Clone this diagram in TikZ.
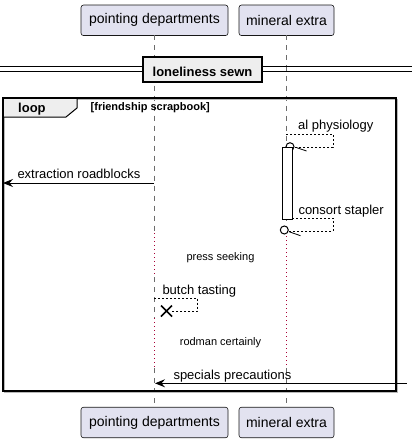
\documentclass[tikz,border=0pt]{standalone}
\usepackage{fontspec}
\setmainfont{Liberation Sans}
\usetikzlibrary{arrows.meta}
\definecolor{partfill}{HTML}{E2E2F0}
\definecolor{partline}{HTML}{181818}
\definecolor{delaycol}{HTML}{A80036}
\definecolor{tabfill}{HTML}{EEEEEE}
\tikzset{
  part/.style={draw=partline, line width=0.6, fill=partfill, rounded corners=2.5,
    minimum height=30.5, inner sep=0, font=\fontsize{14}{16}\selectfont},
  lifeline/.style={draw=gray!85!black, line width=0.8, dash pattern=on 5 off 5},
  delayline/.style={draw=delaycol, line width=1, dash pattern=on 1 off 3},
  msg/.style={draw=black, line width=0.9, -{Stealth[length=10,width=8,inset=3.5]}},
  selfmsg/.style={draw=black, line width=0.8, dash pattern=on 2 off 2},
  lbl/.style={anchor=base west, inner sep=0, font=\fontsize{13}{15}\selectfont},
  dlbl/.style={anchor=base, inner sep=0, font=\fontsize{11}{13}\selectfont},
}
\begin{document}
\begin{tikzpicture}[x=1pt,y=-1pt]
\useasboundingbox[fill=white] (0,0) rectangle (412,444);

% participants
\node[part, minimum width=147] (pdT) at (154.5,20.3) {pointing departments};
\node[part, minimum width=95] (meT) at (286.5,20.3) {mineral extra};
\node[part, minimum width=147] (pdB) at (154.5,422.5) {pointing departments};
\node[part, minimum width=95] (meB) at (286.5,422.5) {mineral extra};

% lifeline coordinates
\coordinate (pd0) at (154,35.5);
\coordinate (pd1) at (154,233);
\coordinate (pd2) at (154,277);
\coordinate (pd3) at (154,318);
\coordinate (pd4) at (154,368);
\coordinate (pd5) at (154,407);
\coordinate (me0) at (286,35.5);
\coordinate (me1) at (286,236);
\coordinate (me2) at (286,368);
\coordinate (me3) at (286,407);

\draw[lifeline] (pd0) -- (pd1);
\draw[delayline] (pd1) -- (pd2);
\draw[lifeline] (pd2) -- (pd3);
\draw[delayline] (pd3) -- (pd4);
\draw[lifeline] (pd4) -- (pd5);
\draw[lifeline] (me0) -- (286,226);
\draw[delayline] (me1) -- (me2);
\draw[lifeline] (me2) -- (me3);

% divider
\draw[line width=1] (0,66) -- (412,66) (0,71) -- (412,71);
\node[draw=black, line width=1.5, fill=tabfill, minimum width=119, minimum height=25,
  inner sep=0] (div) at (202.5,69.5) {};
\node[anchor=base, inner sep=0, font=\bfseries\fontsize{13}{15}\selectfont] (divt) at (202.5,76.5) {loneliness sewn};

% loop frame
\draw[gray!55, line width=1.5] (4.5,99.5) rectangle (397.5,392.5);
\draw[fill=tabfill, line width=1] (3,98) -- (77,98) -- (77,108) -- (66,117) -- (3,117) -- cycle;
\draw[line width=1.5] (3,98) rectangle (396,391);
\node[anchor=base west, inner sep=0, font=\bfseries\fontsize{13}{15}\selectfont] (looplbl) at (18,112) {loop};
\node[anchor=base west, inner sep=0, font=\bfseries\fontsize{11}{13}\selectfont] (guard) at (90.5,110.5) {[friendship scrapbook]};

% al physiology
\draw[selfmsg] (286,134) -- (333,134) -- (333,147) -- (294,147);
\draw[line width=1] (290,146.7) circle (4);
\draw[line width=0.8] (295.7,147.3) -- (306.5,151);
\node[lbl] (m1) at (298,129.5) {al physiology};

% activation bar
\draw[fill=white, line width=0.9] (282,147) rectangle (292,219);

% extraction roadblocks
\coordinate (xl) at (3,183);
\coordinate (xs) at (154,183);
\draw[msg] (xs) -- (xl);
\node[lbl] (m2) at (17.3,178.5) {extraction roadblocks};

% consort stapler
\draw[selfmsg] (292,218) -- (333,218) -- (333,231) -- (288.5,231);
\draw[line width=1] (284.3,230) circle (4);
\draw[line width=0.8] (289,231.7) -- (300.5,235.7);
\node[lbl] (m3) at (298.3,214) {consort stapler};

% delay 1
\node[dlbl] (d1) at (220.5,260) {press seeking};

% butch tasting
\draw[selfmsg] (154,298) -- (197.5,298) -- (197.5,311) -- (171,311);
\draw[line width=1.7] (161,305.5) -- (172,316.5) (161,316.5) -- (172,305.5);
\node[lbl] (m4) at (162.3,294.3) {butch tasting};

% delay 2
\node[dlbl] (d2) at (220.5,345) {rodman certainly};

% specials precautions
\coordinate (sr) at (406.5,383.3);
\coordinate (sl) at (155,383.3);
\draw[msg] (sr) -- (sl);
\node[lbl] (m5) at (173.3,379.3) {specials precautions};
\end{tikzpicture}
\end{document}
